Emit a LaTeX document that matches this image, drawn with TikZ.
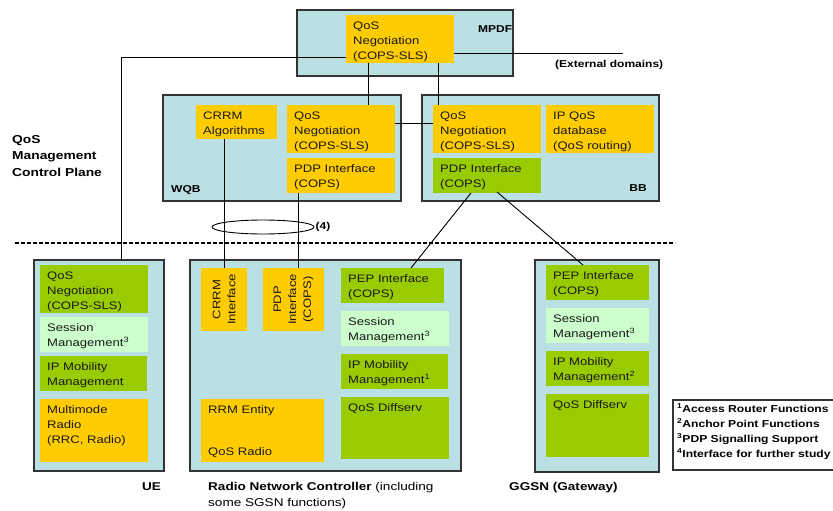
\documentclass[tikz,border=0pt]{standalone}
\usepackage{fontspec}
\setmainfont{Liberation Sans}[FakeStretch=1.2]
\usetikzlibrary{calc,shapes.geometric}

\definecolor{panelbg}{RGB}{187,224,227}
\definecolor{qosorange}{RGB}{255,204,0}
\definecolor{qosgreen}{RGB}{153,204,0}
\definecolor{palegreen}{RGB}{204,255,204}
\definecolor{edgegray}{RGB}{51,51,51}

% block from (x1,y1) to (x2,y2), y grows downwards
\newcommand\blk[6]{%
  \node[#6, anchor=north west, inner sep=0pt, outer sep=0pt,
        minimum width={#4-#2}, minimum height={#5-#3}] (#1) at (#2,#3) {};}
% text set from the top left corner of a block; the strut fixes the first baseline
\newcommand\lbl[2]{%
  \node[txt, anchor=north west] (#1-t) at ($(#1.north west)+(7,4.5)$) {\rule{0pt}{10pt}#2};}

\begin{document}
\begin{tikzpicture}[x=1pt,y=-1pt,
  outer/.style={draw=edgegray, line width=1.2pt, fill=panelbg},
  fo/.style={fill=qosorange},
  fg/.style={fill=qosgreen},
  fp/.style={fill=palegreen},
  txt/.style={font=\fontsize{10.9}{15}\selectfont, align=left, inner sep=0pt, text=black!90},
  tag/.style={font=\fontsize{10}{15}\selectfont\bfseries, inner sep=0pt, align=left},
  big/.style={font=\fontsize{11.3}{16.5}\selectfont\bfseries, inner sep=0pt, align=left},
  link/.style={draw=black, line width=0.9pt},
  divider/.style={draw=black, line width=1.3pt, dash pattern=on 4pt off 2pt}
]
\fill[white] (0,0) rectangle (833,511);
\useasboundingbox (0,0) rectangle (833,511);

% ---------- MPDF ----------
\blk{mpdf}{297}{10}{513}{76}{outer}
\blk{mq}{346}{15}{454}{63}{fo}
\lbl{mq}{QoS\\Negotiation\\(COPS-SLS)}
\node[tag, anchor=base west] (mpdf-l) at (478,33) {MPDF};

% ---------- WQB ----------
\blk{wqb}{163}{95}{401}{201}{outer}
\blk{ca}{196}{105}{277}{139}{fo}
\lbl{ca}{CRRM\\Algorithms}
\blk{wq}{287}{105}{395}{153}{fo}
\lbl{wq}{QoS\\Negotiation\\(COPS-SLS)}
\blk{wp}{287}{158}{395}{193}{fo}
\lbl{wp}{PDP Interface\\(COPS)}
\node[tag, anchor=base west] (wqb-l) at (171,192) {WQB};

% ---------- BB ----------
\blk{bb}{422}{95}{659}{201}{outer}
\blk{bq}{433}{105}{541}{153}{fo}
\lbl{bq}{QoS\\Negotiation\\(COPS-SLS)}
\blk{bd}{546}{105}{654}{153}{fo}
\lbl{bd}{IP QoS\\database\\(QoS routing)}
\blk{bp}{433}{158}{541}{193}{fg}
\lbl{bp}{PDP Interface\\(COPS)}
\node[tag, anchor=base east] (bb-l) at (647,191) {BB};

% ---------- UE ----------
\blk{ue}{34}{260}{164}{471}{outer}
\blk{uq}{40}{265}{148}{313}{fg}
\lbl{uq}{QoS\\Negotiation\\(COPS-SLS)}
\blk{us}{40}{317}{148}{352}{fp}
\lbl{us}{Session\\Management\textsuperscript{3}}
\blk{um}{40}{356}{147}{391}{fg}
\lbl{um}{IP Mobility\\Management}
\blk{ur}{40}{399}{148}{462}{fo}
\lbl{ur}{Multimode\\Radio\\(RRC, Radio)}

% ---------- Radio Network Controller ----------
\blk{rnc}{190}{260}{461}{471}{outer}
\blk{ri}{201}{268}{247}{331}{fo}
\node[txt, rotate=90, align=center] (ri-t) at (ri.center) {CRRM\\Interface};
\blk{rp}{263}{268}{324}{331}{fo}
\node[txt, rotate=90, align=center] (rp-t) at (rp.center) {PDP\\Interface\\(COPS)};
\blk{re}{341}{268}{444}{303}{fg}
\lbl{re}{PEP Interface\\(COPS)}
\blk{rs}{341}{311}{449}{346}{fp}
\lbl{rs}{Session\\Management\textsuperscript{3}}
\blk{rm}{341}{354}{448}{389}{fg}
\lbl{rm}{IP Mobility\\Management\textsuperscript{1}}
\blk{rd}{341}{397}{449}{459}{fg}
\lbl{rd}{QoS Diffserv}
\blk{rr}{201}{399}{324}{462}{fo}
\lbl{rr}{RRM Entity}
\node[txt, anchor=base west] (rr-b) at ($(rr.south west)+(7,-7)$) {QoS Radio};

% ---------- GGSN ----------
\blk{gg}{535}{260}{659}{472}{outer}
\blk{ge}{546}{265}{649}{300}{fg}
\lbl{ge}{PEP Interface\\(COPS)}
\blk{gs}{546}{308}{649}{343}{fp}
\lbl{gs}{Session\\Management\textsuperscript{3}}
\blk{gm}{546}{351}{649}{386}{fg}
\lbl{gm}{IP Mobility\\Management\textsuperscript{2}}
\blk{gd}{546}{394}{649}{457}{fg}
\lbl{gd}{QoS Diffserv}

% ---------- connectors ----------
\coordinate (ext) at (623,53);
\draw[link] ([yshift=10pt]mq.south east) -- (ext);
\draw[link] ([yshift=6pt]mq.south west) -| ([xshift=22pt]ue.north);
\draw[link] ([xshift=22pt]mq.south west) -- ([xshift=22pt]mq.south west |- wq.north);
\draw[link] ([xshift=-16pt]mq.south east) -- ([xshift=-16pt]mq.south east |- bq.north);
\draw[link] ([yshift=6pt]wq.east) -- ([yshift=6pt]wq.east -| bq.west);
\draw[link] (ca.south -| ri.north) -- (ri.north);
\draw[link] ([xshift=4.5pt]rp.north |- wp.south) -- ([xshift=4.5pt]rp.north);
\draw[link] ([xshift=38pt]bp.south west) -- ([xshift=70pt]re.north west);
\draw[link] ([xshift=64pt,yshift=1pt]bp.south west) -- ([xshift=-14.5pt]ge.north);

% interface bundle marker
\node[ellipse, draw=black, line width=0.9pt, inner sep=0pt,
      minimum width=102pt, minimum height=14pt] (grp) at (263,227) {};
\node[tag, anchor=west] (grp-l) at ([xshift=1pt]grp.east) {(4)};

% control plane divider
\draw[divider] (15,243) -- (675,243);

% ---------- captions ----------
\node[tag, anchor=base west] (ext-l) at (555,68) {(External domains)};
\node[big, font=\fontsize{11.5}{16.5}\selectfont\bfseries, anchor=base west] (plane) at (12,176)
  {QoS\\Management\\Control Plane};
\node[big, anchor=base west] (ue-l) at (142,490) {UE};
\node[big, anchor=base west] (rnc-l) at (208,506.5)
  {Radio Network Controller \mdseries(including\\\mdseries some SGSN functions)};
\node[big, anchor=base west] (gg-l) at (509,490) {GGSN (Gateway)};

% ---------- footnotes ----------
\draw[line width=1.2pt, draw=edgegray] (834,400) -| (673,470) -- (834,470);
\node[tag, font=\fontsize{10.1}{15}\selectfont\bfseries, anchor=base west] (notes) at (677,457)
  {\textsuperscript{1}Access Router Functions\\
   \textsuperscript{2}Anchor Point Functions\\
   \textsuperscript{3}PDP Signalling Support\\
   \textsuperscript{4}Interface for further study};
\end{tikzpicture}
\end{document}
